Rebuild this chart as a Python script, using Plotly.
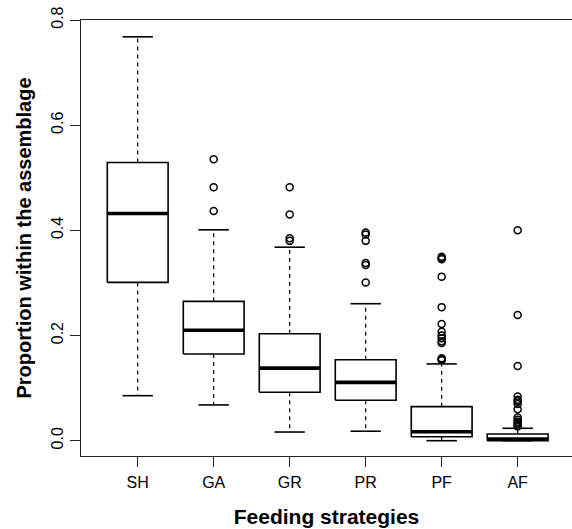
import plotly.graph_objects as go

categories = ["SH", "GA", "GR", "PR", "PF", "AF"]
lower_whisker = [0.0856, 0.068, 0.0165, 0.018, 0.0, 0.0]
q1 = [0.301, 0.165, 0.092, 0.077, 0.0076, 0.0]
median = [0.432, 0.210, 0.138, 0.111, 0.017, 0.003]
q3 = [0.529, 0.265, 0.2035, 0.154, 0.0647, 0.0127]
upper_whisker = [0.768, 0.401, 0.368, 0.2605, 0.146, 0.0236]
outliers = {
    "SH": [],
    "GA": [0.535, 0.482, 0.437],
    "GR": [0.482, 0.430, 0.385, 0.380],
    "PR": [0.396, 0.392, 0.380, 0.338, 0.334, 0.301],
    "PF": [0.350, 0.347, 0.345, 0.312, 0.254, 0.222, 0.207, 0.200, 0.195,
           0.189, 0.186, 0.157, 0.155, 0.153],
    "AF": [0.400, 0.239, 0.142, 0.084, 0.078, 0.075, 0.070, 0.060, 0.044,
           0.040, 0.036, 0.033, 0.030, 0.027],
}
y_ticks = [0.0, 0.2, 0.4, 0.6, 0.8]

FONT = "Liberation Sans, Arial, sans-serif"
BOXW = 0.4   # half box width (category units)
CAPW = 0.2   # half cap width

fig = go.Figure()
positions = list(range(1, len(categories) + 1))

for i, cat in enumerate(categories):
    x = positions[i]
    # dashed whiskers
    for a, b in ((q3[i], upper_whisker[i]), (q1[i], lower_whisker[i])):
        fig.add_trace(go.Scatter(x=[x, x], y=[a, b], mode="lines",
                                 line=dict(color="black", width=1.2, dash="4px,4px"),
                                 hoverinfo="skip", showlegend=False))
    # caps
    for v in (upper_whisker[i], lower_whisker[i]):
        fig.add_trace(go.Scatter(x=[x - CAPW, x + CAPW], y=[v, v], mode="lines",
                                 line=dict(color="black", width=1.6),
                                 hoverinfo="skip", showlegend=False))
    # box
    fig.add_trace(go.Scatter(
        x=[x - BOXW, x + BOXW, x + BOXW, x - BOXW, x - BOXW],
        y=[q1[i], q1[i], q3[i], q3[i], q1[i]],
        mode="lines", fill="toself", fillcolor="white",
        line=dict(color="black", width=1.6),
        hoverinfo="skip", showlegend=False))
    # median
    fig.add_trace(go.Scatter(x=[x - BOXW, x + BOXW], y=[median[i], median[i]],
                             mode="lines", line=dict(color="black", width=3.6),
                             hoverinfo="skip", showlegend=False))
    # outliers
    if outliers[cat]:
        fig.add_trace(go.Scatter(x=[x] * len(outliers[cat]), y=outliers[cat],
                                 mode="markers",
                                 marker=dict(symbol="circle-open", size=7, color="black",
                                             line=dict(width=1.5, color="black")),
                                 hoverinfo="skip", showlegend=False))

fig.update_layout(
    width=572, height=529,
    margin=dict(l=81, r=0, t=20, b=73),
    paper_bgcolor="white", plot_bgcolor="white",
    font=dict(family=FONT, size=16, color="black"),
    showlegend=False,
    xaxis=dict(
        range=[0.254, 6.715],
        tickmode="array", tickvals=positions, ticktext=categories,
        ticks="outside", ticklen=10, tickwidth=1.2, tickcolor="#222",
        showline=True, linecolor="#222", linewidth=1.3, mirror=True,
        showgrid=False, zeroline=False,
        tickfont=dict(size=16), ticklabelstandoff=2,
        title=dict(text="<b>Feeding strategies</b>", font=dict(size=21), standoff=18),
    ),
    yaxis=dict(
        range=[-0.0291, 0.8],
        tickmode="array", tickvals=y_ticks, ticktext=[f"{v:.1f}" for v in y_ticks],
        tickangle=-90,
        ticks="outside", ticklen=10, tickwidth=1.2, tickcolor="#222",
        showline=True, linecolor="#222", linewidth=1.3, mirror=False,
        showgrid=False, zeroline=False,
        tickfont=dict(size=16),
        title=dict(text="<b>Proportion within the assemblage</b>", font=dict(size=20), standoff=12),
    ),
)

fig.write_html("out.html")
